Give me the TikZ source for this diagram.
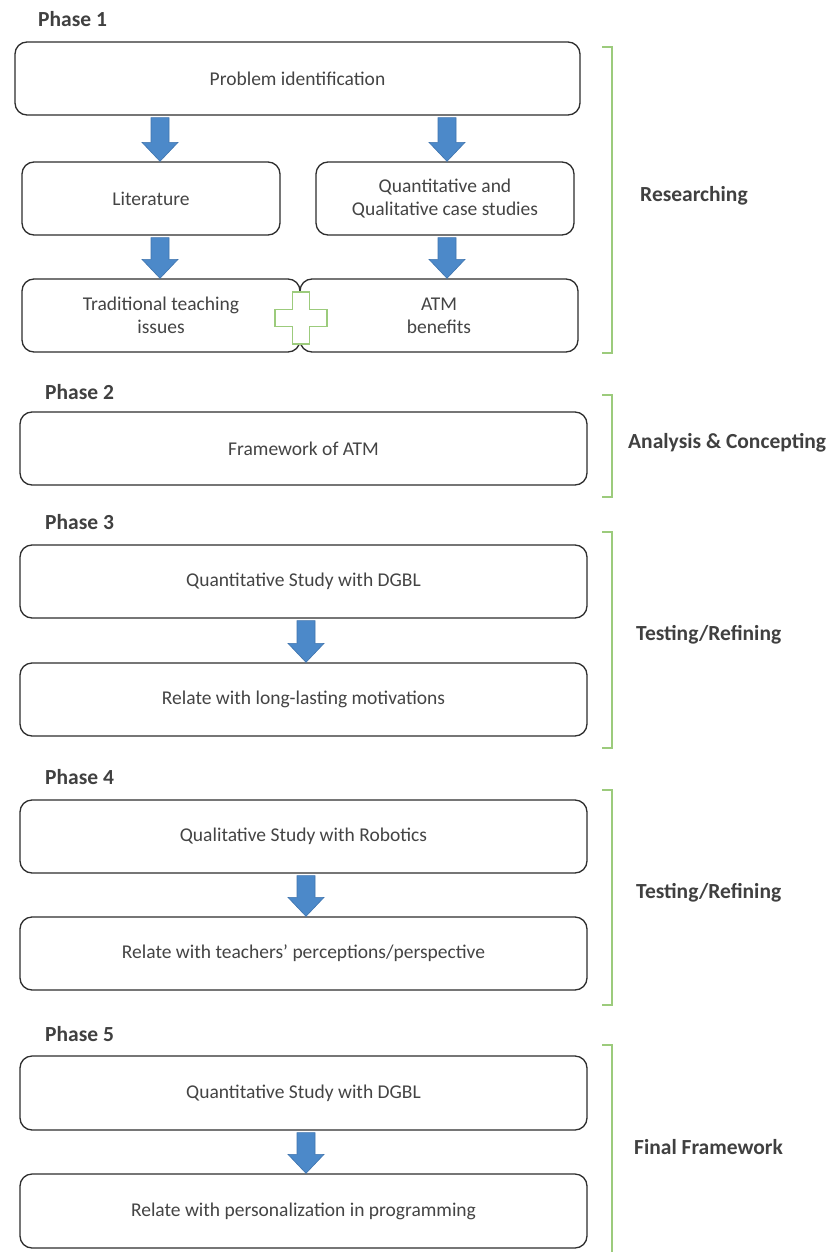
\documentclass[tikz,border=0pt]{standalone}
\usepackage{fontspec}
\setmainfont{Carlito}
\usetikzlibrary{calc}
\definecolor{boxline}{HTML}{2E2E2E}
\definecolor{txt}{HTML}{444444}
\definecolor{lbl}{HTML}{404040}
\definecolor{arrfill}{HTML}{4C89C9}
\definecolor{arrline}{HTML}{3F74AE}
\definecolor{brk}{HTML}{9CCB7C}
\newcommand\barrow[3]{\path[barrowst] let \p1=(#2.south), \p2=(#3.north) in
  (#1pt-9pt,\y1-2pt) -- (#1pt+9pt,\y1-2pt) -- (#1pt+9pt,\y2+19pt) -- (#1pt+18pt,\y2+19pt)
  -- (#1pt,\y2) -- (#1pt-18pt,\y2+19pt) -- (#1pt-9pt,\y2+19pt) -- cycle;}
\begin{document}
\begin{tikzpicture}[x=1pt,y=-1pt,
  rbox/.style={draw=boxline, line width=1.3pt, rounded corners=12pt, fill=white,
    inner sep=0pt, align=center, text=txt, font=\fontsize{19.5}{23}\selectfont},
  phaselbl/.style={anchor=west, text=lbl, inner sep=0pt, font=\bfseries\fontsize{21.5}{25}\selectfont},
  sidelbl/.style={anchor=west, text=lbl, inner sep=0pt, font=\bfseries\fontsize{21.5}{25}\selectfont},
  barrowst/.style={fill=arrfill, draw=arrline, line width=0.6pt},
  bracket/.style={draw=brk, line width=1.1pt},
  plusst/.style={draw=brk, fill=white, line width=1.5pt}]
\useasboundingbox (0,0) rectangle (832,1252);
\fill[white] (0,0) rectangle (832,1252);

% Phase 1
\node[phaselbl] (ph1) at (38,19) {Phase 1};
\node[rbox, minimum width=565pt, minimum height=73pt] (pi) at (297.5,78.5) {Problem identification};
\node[rbox, minimum width=258pt, minimum height=73pt] (lit) at (151,198.5) {Literature};
\node[rbox, minimum width=258pt, minimum height=73pt] (qq) at (445,198.5) {Quantitative and\\Qualitative case studies};
\node[rbox, minimum width=278pt, minimum height=73pt] (tti) at (161,315.5) {Traditional teaching\\issues};
\node[rbox, minimum width=278pt, minimum height=73pt] (atm) at (439,315.5) {ATM\\benefits};
\barrow{160}{pi}{lit}
\barrow{447}{pi}{qq}
\barrow{160}{lit}{tti}
\barrow{447}{qq}{atm}
\draw[plusst] (292.5,292) -- (309.5,292) -- (309.5,309.5) -- (327,309.5) -- (327,326.5)
  -- (309.5,326.5) -- (309.5,344) -- (292.5,344) -- (292.5,326.5) -- (275,326.5)
  -- (275,309.5) -- (292.5,309.5) -- cycle;
\draw[bracket] (602,47) -- (612,47) -- (612,353) -- (602,353);
\node[sidelbl] (s1) at (640,196) {Researching};

% Phase 2
\node[phaselbl] (ph2) at (45,392) {Phase 2};
\node[rbox, minimum width=567pt, minimum height=73pt] (fw) at (303.5,448.5) {Framework of ATM};
\draw[bracket] (602,395) -- (612,395) -- (612,497) -- (602,497);
\node[sidelbl] (s2) at (628,443) {Analysis \& Concepting};

% Phase 3
\node[phaselbl] (ph3) at (45,522) {Phase 3};
\node[rbox, minimum width=567pt, minimum height=73pt] (q3) at (303.5,581.5) {Quantitative Study with DGBL};
\node[rbox, minimum width=567pt, minimum height=73pt] (r3) at (303.5,699.5) {Relate with long-lasting motivations};
\barrow{306}{q3}{r3}
\draw[bracket] (602,532) -- (612,532) -- (612,748) -- (602,748);
\node[sidelbl] (s3) at (636,635) {Testing/Refining};

% Phase 4
\node[phaselbl] (ph4) at (45,777) {Phase 4};
\node[rbox, minimum width=567pt, minimum height=73pt] (q4) at (303.5,836.5) {Qualitative Study with Robotics};
\node[rbox, minimum width=567pt, minimum height=73pt] (r4) at (303.5,953.5) {Relate with teachers’ perceptions/perspective};
\barrow{306}{q4}{r4}
\draw[bracket] (602,790) -- (612,790) -- (612,1005) -- (602,1005);
\node[sidelbl] (s4) at (636,893) {Testing/Refining};

% Phase 5
\node[phaselbl] (ph5) at (45,1034) {Phase 5};
\node[rbox, minimum width=567pt, minimum height=74pt] (q5) at (303.5,1093) {Quantitative Study with DGBL};
\node[rbox, minimum width=567pt, minimum height=74pt] (r5) at (303.5,1211) {Relate with personalization in programming};
\barrow{306}{q5}{r5}
\draw[bracket] (602,1045) -- (612,1045) -- (612,1254);
\node[sidelbl] (s5) at (634,1147) {Final Framework};
\end{tikzpicture}
\end{document}
